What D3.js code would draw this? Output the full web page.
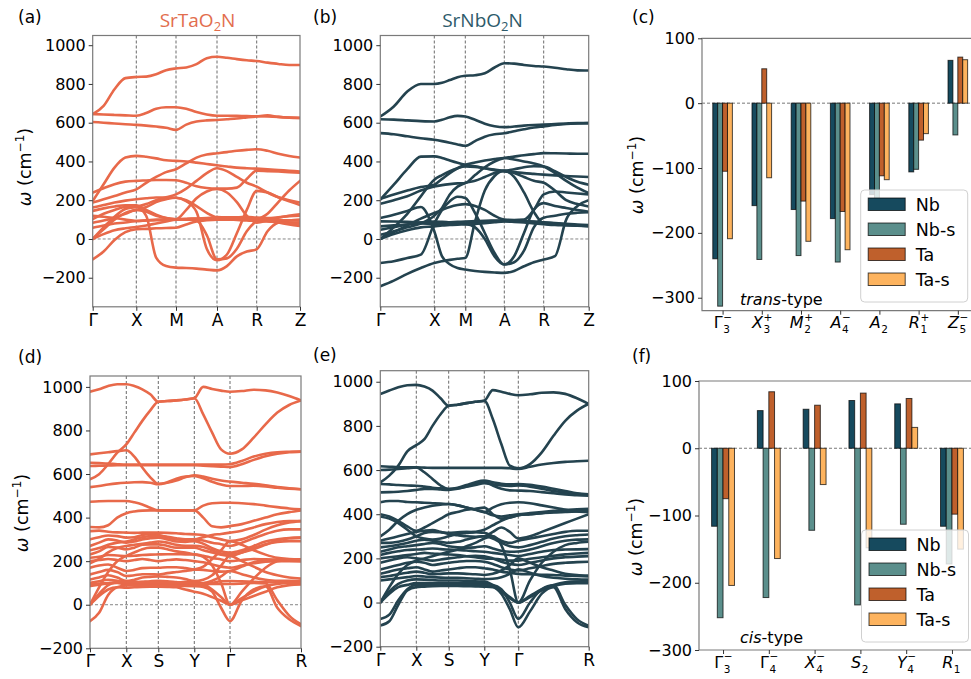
<!DOCTYPE html>
<html>
<head>
<meta charset="utf-8">
<script src="https://cdn.jsdelivr.net/npm/d3@7"></script>
<style>
  body { margin: 0; background: #fff; }
  svg text { font-family: "DejaVu Sans", sans-serif; fill: #000; }
</style>
</head>
<body>
<svg id="fig" width="971" height="679"></svg>
<script>
// ---------------- phonon band data (cm^-1), sampled along the k-path ----------------
var pathTrans = ["Γ", "X", "M", "A", "R", "Z"];
var pathCis = ["Γ", "X", "S", "Y", "Γ", "R"];
// distance of each high-symmetry point along the path
var kTa = [0, 43.6, 83.3, 124.3, 164, 207.3];
var kNb = [0, 54, 85, 124, 163.4, 208.4];
var kTaCis = [0, 36.3, 68.3, 104.3, 140, 211];
var kNbCis = [0, 36, 68.4, 104, 138, 208.4];
// number of sample steps in each segment
var stepsTrans = [4, 4, 4, 4, 4];
var stepsCis = [4, 4, 4, 4, 6];

var bandsTa = [
  [644, 687, 773, 830, 836, 838, 850, 871, 880, 885, 902, 933, 940, 935, 928, 922, 918, 910, 903, 898, 898],
  [645, 642, 640, 638, 636, 650, 672, 680, 680, 672, 655, 642, 636, 636, 635, 634, 633, 632, 630, 627, 625],
  [604, 600, 596, 592, 589, 585, 580, 574, 563, 590, 606, 612, 614, 618, 622, 627, 632, 638, 630, 626, 624],
  [196, 282, 368, 420, 429, 424, 416, 406, 403, 400, 394, 387, 380, 374, 368, 365, 363, 360, 356, 352, 348],
  [239, 262, 283, 296, 300, 302, 304, 304, 303, 290, 272, 263, 260, 260, 265, 310, 352, 350, 348, 345, 342],
  [188, 205, 222, 240, 256, 290, 320, 345, 360, 390, 420, 436, 442, 448, 455, 460, 463, 455, 440, 428, 420],
  [162, 175, 188, 198, 205, 210, 214, 214, 213, 195, 140, -50, -110, -80, 30, 150, 248, 240, 215, 195, 175],
  [145, 158, 168, 174, 174, 150, 125, 108, 102, 150, 210, 245, 258, 240, 190, 120, 84, 95, 110, 120, 127],
  [-105, -65, -5, 35, 50, 52, 55, 57, 58, 75, 90, 97, 100, 100, 98, 96, 93, 90, 87, 85, 84],
  [102, 130, 150, 165, 165, 119, -96, -140, -148, -150, -153, -158, -162, -140, -90, -65, -53, 40, 85, 95, 100],
  [84, 95, 110, 130, 150, 140, 120, 108, 102, 100, 95, 20, -105, -100, -50, 40, 95, 130, 190, 250, 300],
  [119, 115, 108, 100, 93, 95, 97, 98, 100, 102, 104, 105, 106, 105, 104, 102, 100, 95, 85, 75, 67],
  [0, 25, 45, 55, 62, 70, 80, 90, 100, 102, 103, 104, 104, 104, 103, 100, 98, 92, 86, 80, 75],
  [0, 50, 100, 135, 150, 165, 190, 205, 213, 200, 170, 135, 113, 112, 112, 115, 110, 108, 112, 118, 120],
  [0, 60, 115, 155, 165, 180, 200, 215, 230, 260, 300, 340, 365, 350, 320, 290, 270, 240, 215, 200, 188],
  [58, 70, 80, 85, 93, 96, 100, 101, 102, 104, 106, 108, 110, 108, 106, 104, 102, 100, 98, 96, 94]
];

var bandsNb = [
  [632, 684, 761, 800, 800, 806, 820, 835, 842, 845, 855, 885, 907, 905, 898, 893, 890, 884, 876, 870, 869],
  [618, 616, 612, 608, 606, 615, 628, 635, 632, 615, 595, 582, 577, 580, 585, 588, 590, 593, 596, 598, 598],
  [546, 540, 530, 520, 512, 505, 497, 488, 481, 505, 528, 540, 546, 556, 566, 575, 581, 588, 593, 596, 598],
  [203, 280, 360, 425, 426, 418, 405, 393, 383, 375, 365, 355, 349, 345, 340, 336, 332, 328, 325, 322, 320],
  [182, 200, 220, 250, 271, 278, 283, 287, 289, 330, 370, 400, 418, 425, 432, 438, 443, 442, 441, 440, 440],
  [208, 230, 250, 268, 280, 310, 340, 365, 383, 395, 405, 413, 418, 410, 400, 390, 374, 340, 300, 265, 237],
  [-244, -215, -180, -150, -124, -115, -108, -102, -98, 90, 250, 325, 352, 320, 240, 140, 80, 75, 72, 70, 68],
  [-124, -115, -98, -81, 80, 150, 195, 218, 211, 134, 31, -72, -132, -89, 31, 151, 185, 170, 160, 150, 140],
  [108, 125, 145, 165, 40, -90, -130, -150, -158, -165, -170, -173, -175, -165, -141, -120, -106, -89, 100, 170, 200],
  [48, 60, 75, 85, 90, 88, 85, 80, 78, 60, 0, -90, -132, -120, -60, 60, 110, 120, 130, 135, 138],
  [91, 90, 88, 85, 82, 84, 86, 88, 90, 92, 94, 95, 96, 95, 93, 90, 86, 82, 78, 74, 72],
  [65, 70, 75, 80, 78, 80, 82, 84, 86, 88, 90, 92, 93, 92, 90, 88, 85, 80, 75, 70, 66],
  [0, 60, 130, 220, 306, 330, 350, 365, 374, 372, 365, 358, 352, 360, 370, 375, 374, 350, 320, 295, 280],
  [0, 35, 70, 105, 134, 150, 165, 175, 180, 170, 150, 120, 100, 98, 100, 150, 230, 245, 240, 235, 230],
  [0, 25, 45, 60, 65, 70, 72, 74, 75, 78, 82, 86, 90, 88, 85, 80, 76, 72, 70, 68, 66],
  [22, 40, 60, 80, 120, 160, 230, 270, 289, 300, 320, 340, 352, 340, 320, 300, 290, 250, 200, 180, 168]
];

var bandsTaCis = [
  [978, 989, 1004, 1012, 1012, 1004, 989, 966, 932, 935, 938, 942, 948, 1000, 990, 983, 978, 981, 987, 984, 974, 958, 938],
  [576, 599, 645, 698, 736, 790, 844, 892, 932, 935, 938, 942, 948, 874, 790, 713, 693, 713, 767, 828, 882, 917, 938],
  [690, 695, 700, 705, 709, 680, 630, 585, 555, 560, 570, 585, 594, 588, 578, 570, 565, 560, 555, 548, 540, 535, 530],
  [540, 545, 552, 557, 560, 562, 563, 560, 553, 562, 578, 588, 591, 580, 565, 552, 545, 545, 546, 543, 537, 533, 530],
  [652, 650, 648, 645, 643, 643, 643, 643, 643, 643, 643, 643, 643, 643, 643, 643, 645, 660, 680, 693, 700, 702, 703],
  [637, 638, 639, 640, 640, 640, 640, 640, 640, 640, 640, 640, 640, 638, 636, 634, 632, 645, 665, 682, 693, 700, 703],
  [473, 475, 476, 476, 476, 470, 460, 445, 433, 433, 433, 433, 433, 455, 466, 468, 468, 466, 462, 455, 448, 442, 438],
  [357, 355, 365, 400, 420, 428, 432, 433, 433, 433, 433, 433, 433, 400, 360, 355, 361, 370, 385, 400, 415, 425, 433],
  [338, 340, 335, 332, 331, 330, 331, 331, 331, 330, 328, 325, 323, 320, 310, 300, 292, 300, 320, 345, 365, 378, 384],
  [300, 310, 318, 315, 308, 310, 320, 325, 320, 310, 300, 298, 300, 295, 285, 278, 270, 285, 305, 325, 340, 346, 346],
  [270, 285, 300, 295, 285, 290, 300, 305, 308, 300, 290, 288, 292, 280, 260, 245, 239, 250, 270, 290, 300, 306, 308],
  [231, 245, 265, 262, 254, 262, 275, 277, 277, 270, 262, 262, 262, 250, 240, 230, 224, 240, 260, 278, 288, 292, 292],
  [216, 220, 228, 226, 224, 225, 228, 230, 231, 232, 232, 231, 231, 225, 215, 208, 200, 205, 210, 208, 207, 208, 208],
  [200, 205, 210, 205, 200, 205, 210, 205, 200, 205, 208, 205, 200, 195, 185, 175, 170, 180, 190, 198, 200, 200, 200],
  [170, 180, 185, 170, 155, 160, 168, 170, 170, 172, 172, 168, 162, 160, 155, 152, 155, 175, 195, 205, 205, 202, 200],
  [139, 150, 160, 150, 132, 135, 140, 140, 139, 145, 150, 155, 162, 175, 210, 250, 292, 275, 250, 230, 215, 210, 208],
  [116, 125, 135, 125, 109, 115, 125, 128, 130, 128, 125, 118, 109, 115, 135, 180, 224, 200, 175, 150, 135, 125, 120],
  [101, 108, 115, 110, 100, 102, 105, 108, 110, 108, 104, 100, 98, 100, 110, 130, 155, 140, 125, 115, 110, 110, 109],
  [86, 92, 98, 100, 93, 95, 96, 96, 95, 95, 94, 93, 93, 92, 100, 108, 109, 107, 105, 103, 102, 101, 101],
  [0, 40, 70, 80, 78, 80, 82, 83, 83, 82, 80, 70, 60, 50, 35, 18, 0, 20, 40, 60, 80, 90, 93],
  [0, 50, 90, 105, 109, 105, 100, 95, 93, 95, 100, 105, 109, 95, 70, 35, 0, 30, 60, 85, 95, 100, 101],
  [-75, -37, 45, 80, 88, 88, 87, 86, 86, 86, 86, 86, 85, 82, 60, -14, -75, 20, 70, 85, -14, -67, -98],
  [95, 97, 100, 102, 104, 104, 104, 104, 104, 103, 102, 100, 98, 96, 95, 95, 95, 97, 100, 98, 20, -50, -90],
  [0, 80, 150, 200, 224, 240, 255, 262, 262, 255, 245, 240, 231, 220, 180, 100, 0, 60, 120, 170, 200, 205, 208],
  [250, 260, 275, 285, 290, 300, 310, 315, 316, 312, 305, 300, 300, 310, 320, 325, 331, 340, 355, 370, 380, 384, 384],
  [190, 210, 240, 260, 270, 275, 280, 285, 290, 285, 275, 270, 270, 265, 250, 235, 231, 240, 255, 275, 295, 305, 308]
];

var bandsNbCis = [
  [944, 960, 975, 984, 986, 978, 960, 925, 891, 896, 903, 909, 914, 962, 955, 945, 939, 943, 950, 952, 945, 925, 899],
  [544, 575, 620, 685, 713, 740, 800, 853, 891, 896, 903, 909, 914, 831, 718, 620, 608, 627, 680, 755, 823, 869, 899],
  [617, 615, 613, 612, 612, 611, 610, 610, 610, 610, 610, 610, 610, 610, 610, 608, 605, 615, 625, 632, 637, 640, 642],
  [600, 602, 605, 608, 612, 590, 560, 530, 514, 520, 532, 545, 552, 545, 538, 535, 537, 533, 525, 515, 505, 495, 490],
  [537, 535, 532, 530, 529, 525, 520, 517, 514, 518, 525, 532, 540, 535, 530, 528, 530, 525, 515, 505, 498, 492, 487],
  [499, 500, 502, 505, 510, 515, 515, 512, 510, 515, 525, 540, 548, 530, 515, 508, 507, 505, 500, 495, 490, 486, 484],
  [454, 460, 460, 455, 454, 452, 450, 448, 446, 440, 430, 420, 409, 430, 445, 452, 454, 450, 440, 430, 420, 412, 409],
  [400, 390, 370, 345, 325, 340, 360, 380, 400, 410, 420, 425, 430, 400, 380, 385, 395, 400, 405, 408, 410, 412, 415],
  [300, 330, 370, 400, 420, 430, 438, 443, 446, 440, 430, 420, 410, 395, 390, 395, 400, 405, 410, 415, 420, 422, 424],
  [280, 290, 300, 310, 320, 325, 328, 320, 310, 305, 300, 298, 300, 320, 340, 320, 290, 300, 320, 340, 360, 380, 400],
  [270, 270, 275, 285, 300, 315, 320, 318, 316, 318, 320, 318, 316, 300, 280, 270, 280, 290, 300, 310, 320, 325, 325],
  [250, 255, 262, 270, 280, 285, 280, 275, 270, 275, 285, 295, 300, 290, 270, 255, 250, 260, 275, 290, 300, 305, 308],
  [230, 240, 250, 255, 260, 265, 270, 265, 255, 250, 248, 250, 255, 245, 235, 230, 231, 240, 255, 270, 280, 285, 286],
  [215, 225, 232, 238, 240, 242, 245, 242, 240, 238, 236, 232, 230, 225, 220, 215, 210, 220, 230, 238, 240, 241, 242],
  [200, 205, 210, 215, 220, 225, 222, 220, 218, 215, 210, 205, 200, 198, 195, 190, 190, 198, 205, 212, 218, 222, 225],
  [180, 190, 200, 205, 200, 195, 190, 195, 200, 205, 210, 212, 210, 200, 185, 175, 170, 180, 190, 200, 205, 208, 210],
  [150, 160, 170, 180, 185, 180, 170, 175, 180, 185, 188, 188, 185, 175, 160, 150, 145, 155, 165, 175, 180, 183, 185],
  [130, 140, 150, 155, 160, 150, 140, 145, 150, 155, 160, 160, 155, 150, 140, 135, 130, 128, 126, 125, 122, 120, 118],
  [115, 120, 128, 135, 140, 135, 128, 130, 132, 132, 130, 128, 125, 130, 145, 170, 200, 180, 160, 145, 130, 125, 122],
  [100, 105, 110, 115, 120, 118, 115, 113, 112, 112, 110, 108, 106, 108, 115, 130, 150, 135, 120, 112, 108, 105, 104],
  [0, 50, 85, 100, 105, 104, 102, 100, 100, 100, 98, 96, 95, 80, 55, 25, 0, 30, 60, 80, 92, 95, 96],
  [0, 40, 70, 80, 88, 88, 88, 88, 88, 88, 88, 88, 87, 75, 50, 20, 0, 25, 55, 75, 85, 88, 88],
  [-104, -85, -10, 55, 70, 72, 74, 75, 75, 75, 74, 73, 72, 70, 40, -30, -112, -40, 40, 70, -29, -89, -112],
  [-75, -55, 10, 60, 80, 80, 80, 80, 80, 80, 80, 80, 80, 78, 60, 0, -74, 0, 60, 78, -10, -75, -105],
  [0, 70, 130, 170, 190, 200, 210, 220, 230, 240, 255, 270, 290, 300, 260, 150, 0, 100, 180, 230, 260, 270, 275],
  [390, 380, 360, 330, 300, 290, 285, 290, 300, 310, 315, 320, 330, 350, 370, 385, 395, 400, 405, 410, 412, 415, 418]
];

// ---------------- soft-mode bar data (cm^-1) ----------------
var seriesNames = ["Nb", "Nb-s", "Ta", "Ta-s"];
var seriesColors = ["#164a5e", "#5b8f8c", "#bf602c", "#fdb35e"];
// [letter, subscript, superscript]
var modesTrans = [["Γ", "3", "−"], ["X", "3", "+"], ["M", "2", "+"], ["A", "4", "−"], ["A", "2", ""], ["R", "1", "+"], ["Z", "5", "−"]];
var modesCis = [["Γ", "3", "−"], ["Γ", "4", "−"], ["X", "4", "−"], ["S", "2", ""], ["Y", "4", "−"], ["R", "1", ""]];
var transNb = [-240, -158, -164, -178, -141, -106, 66];
var transNbs = [-313, -241, -235, -245, -148, -102, -49];
var transTa = [-105, 53, -151, -167, -112, -57, 71];
var transTas = [-209, -115, -213, -226, -118, -47, 67];
var cisNb = [-116, 56, 58, 71, 66, -116];
var cisNbs = [-252, -222, -122, -233, -113, -172];
var cisTa = [-75, 84, 64, 82, 74, -98];
var cisTas = [-204, -164, -54, -148, 31, -150];

var taColor = "#e8694a", nbColor = "#24434f";

var svg = d3.select("#fig");
var defs = svg.append("defs");

function addTag(txt, x, y) {
  svg.append("text").attr("x", x).attr("y", y).style("font-size", "17px").text(txt);
}

function addYLabel(cx, cy) {
  var t = svg.append("text")
      .attr("transform", "translate(" + cx + "," + cy + ") rotate(-90)")
      .attr("text-anchor", "middle")
      .style("font-size", "17.5px");
  t.append("tspan").attr("dy", "0.35em").style("font-style", "italic").text("ω");
  t.append("tspan").text(" (cm");
  t.append("tspan").attr("dy", -7).style("font-size", "12px").text("−1");
  t.append("tspan").attr("dy", 7).text(")");
}

function styleAxis(ax) {
  ax.select(".domain").remove();
  ax.selectAll(".tick line").attr("stroke", "#333");
  ax.selectAll(".tick text").style("font-size", "16px").style("font-family", '"DejaVu Sans", sans-serif').attr("fill", "#000");
}

function bandPanel(o) {
  var x = d3.scaleLinear().domain([0, o.k[o.k.length - 1]]).range([o.left, o.right]);
  var y = d3.scaleLinear().domain(o.yDomain).range([o.bottom, o.top]);

  // sample grid along the path
  var grid = [];
  o.k.slice(0, -1).forEach(function(k0, i) {
    var k1 = o.k[i + 1], n = o.steps[i];
    for (var j = 0; j < n; j++) grid.push(k0 + (k1 - k0) * j / n);
  });
  grid.push(o.k[o.k.length - 1]);

  defs.append("clipPath").attr("id", o.id)
    .append("rect").attr("x", o.left).attr("y", o.top)
    .attr("width", o.right - o.left).attr("height", o.bottom - o.top);

  var g = svg.append("g");

  g.selectAll(".vline").data(o.k.slice(1, -1)).join("line")
      .attr("x1", function(d) { return x(d); }).attr("x2", function(d) { return x(d); })
      .attr("y1", o.top).attr("y2", o.bottom)
      .attr("stroke", "#444").attr("stroke-width", 0.8).attr("stroke-dasharray", "3,2");
  g.append("line")
      .attr("x1", o.left).attr("x2", o.right).attr("y1", y(0)).attr("y2", y(0))
      .attr("stroke", "#666").attr("stroke-width", 0.8).attr("stroke-dasharray", "3,2");

  var line = d3.line()
      .x(function(d, i) { return x(grid[i]); })
      .y(function(d) { return y(d); })
      .curve(d3.curveMonotoneX);

  g.append("g").attr("clip-path", "url(#" + o.id + ")")
    .selectAll("path").data(o.bands).join("path")
      .attr("d", line)
      .attr("fill", "none")
      .attr("stroke", o.color)
      .attr("stroke-width", 2.6)
      .attr("stroke-linecap", "round")
      .attr("stroke-linejoin", "round");

  g.append("rect")
      .attr("x", o.left).attr("y", o.top)
      .attr("width", o.right - o.left).attr("height", o.bottom - o.top)
      .attr("fill", "none").attr("stroke", "#7a7a7a").attr("stroke-width", 1.2);

  var ay = g.append("g").attr("transform", "translate(" + o.left + ",0)")
      .call(d3.axisLeft(y).tickValues(o.yTicks).tickFormat(d3.format("d")).tickSize(4).tickPadding(3));
  styleAxis(ay);

  var ax = g.append("g").attr("transform", "translate(0," + o.bottom + ")")
      .call(d3.axisBottom(x).tickValues(o.k).tickFormat(function(d, i) { return o.labels[i]; })
        .tickSize(4).tickPadding(3));
  styleAxis(ax);
  ax.selectAll(".tick text").style("font-size", "17px");
}

// one text element per mode label: letter, stacked superscript and subscript
function modeLabel(g, cx, y, m) {
  var t = g.append("text").attr("y", y).style("font-size", "16px");
  var base = t.append("tspan").style("font-style", m[0] === "Γ" ? "normal" : "italic").text(m[0]);
  var bw = base.node().getComputedTextLength();
  var x0 = cx - (bw + 8.5) / 2;
  base.attr("x", x0);
  if (m[2]) {
    t.append("tspan").attr("x", x0 + bw + 0.5).attr("y", y - 7.5).style("font-size", "10.5px").text(m[2]);
  }
  t.append("tspan").attr("x", x0 + bw + 0.5).attr("y", y + 5).style("font-size", "10.5px").text(m[1]);
}

function barPanel(o) {
  var x = d3.scaleLinear().domain([-0.525, o.modes.length - 0.475]).range([o.left, o.right]);
  var y = d3.scaleLinear().domain(o.yDomain).range([o.bottom, o.top]);
  var w = 0.125;

  var g = svg.append("g");

  g.append("line")
      .attr("x1", o.left).attr("x2", o.right).attr("y1", y(0)).attr("y2", y(0))
      .attr("stroke", "#555").attr("stroke-width", 0.8).attr("stroke-dasharray", "3,2");

  o.series.forEach(function(vals, s) {
    g.append("g").selectAll("rect").data(vals).join("rect")
        .attr("x", function(d, i) { return x(i + (s - 2) * w); })
        .attr("width", x(w) - x(0))
        .attr("y", function(d) { return y(Math.max(0, d)); })
        .attr("height", function(d) { return Math.abs(y(d) - y(0)); })
        .attr("fill", seriesColors[s])
        .attr("stroke", "#000").attr("stroke-opacity", 0.7).attr("stroke-width", 1);
  });

  // spines: left, top, bottom
  g.append("path")
      .attr("d", "M" + o.right + "," + o.top + "H" + o.left + "V" + o.bottom + "H" + o.right)
      .attr("fill", "none").attr("stroke", "#7a7a7a").attr("stroke-width", 1.2);

  var ay = g.append("g").attr("transform", "translate(" + o.left + ",0)")
      .call(d3.axisLeft(y).tickValues(o.yTicks).tickFormat(d3.format("d")).tickSize(4).tickPadding(3));
  styleAxis(ay);

  var ax = g.append("g").attr("transform", "translate(0," + o.bottom + ")")
      .call(d3.axisBottom(x).tickValues(d3.range(o.modes.length)).tickFormat("").tickSize(4));
  styleAxis(ax);
  o.modes.forEach(function(m, i) { modeLabel(g, x(i), o.bottom + 17.5, m); });

  // note text
  var note = g.append("text").attr("x", o.noteX).attr("y", o.noteY).style("font-size", "16px");
  note.append("tspan").style("font-style", "italic").text(o.note);
  note.append("tspan").text("-type");

  // legend
  var lg = g.append("g").attr("transform", "translate(" + o.legX + "," + o.legY + ")");
  lg.append("rect").attr("width", 107).attr("height", 112).attr("rx", 4)
      .attr("fill", "#fff").attr("fill-opacity", 0.8).attr("stroke", "#d0d0d0");
  seriesNames.forEach(function(nm, s) {
    lg.append("rect").attr("x", 7.5).attr("y", 8 + s * 25).attr("width", 37).attr("height", 12.5)
        .attr("fill", seriesColors[s]).attr("stroke", "#000").attr("stroke-opacity", 0.7);
    lg.append("text").attr("x", 55).attr("y", 20.5 + s * 25).style("font-size", "17.5px").text(nm);
  });
}

// ---------------- draw ----------------
var bandTicks = [-200, 0, 200, 400, 600, 800, 1000];

bandPanel({ id: "ca", left: 92.7, right: 300, top: 35.5, bottom: 306.8, yDomain: [-350, 1050],
  k: kTa, steps: stepsTrans, labels: pathTrans, bands: bandsTa, color: taColor, yTicks: bandTicks });
bandPanel({ id: "cb", left: 380.3, right: 588.7, top: 35.5, bottom: 306.8, yDomain: [-350, 1050],
  k: kNb, steps: stepsTrans, labels: pathTrans, bands: bandsNb, color: nbColor, yTicks: bandTicks });
bandPanel({ id: "cd", left: 90, right: 301, top: 376, bottom: 648.3, yDomain: [-200, 1050],
  k: kTaCis, steps: stepsCis, labels: pathCis, bands: bandsTaCis, color: taColor, yTicks: bandTicks });
bandPanel({ id: "ce", left: 380.3, right: 588.7, top: 370.7, bottom: 646.7, yDomain: [-200, 1050],
  k: kNbCis, steps: stepsCis, labels: pathCis, bands: bandsNbCis, color: nbColor, yTicks: bandTicks });

barPanel({ left: 702, right: 978.4, top: 38.3, bottom: 310.7, yDomain: [-320, 100],
  yTicks: [-300, -200, -100, 0, 100], modes: modesTrans,
  series: [transNb, transNbs, transTa, transTas],
  note: "trans", noteX: 740, noteY: 305, legX: 860.7, legY: 190 });
barPanel({ left: 699, right: 976, top: 381, bottom: 650, yDomain: [-300, 100],
  yTicks: [-300, -200, -100, 0, 100], modes: modesCis,
  series: [cisNb, cisNbs, cisTa, cisTas],
  note: "cis", noteX: 740, noteY: 643, legX: 861.5, legY: 530 });

// titles
function addTitle(cx, y, metal, color) {
  var t = svg.append("text").attr("x", cx).attr("y", y).attr("text-anchor", "middle")
      .style("font-family", '"Open Sans", sans-serif').style("font-size", "19px").style("fill", color);
  t.append("tspan").text("Sr" + metal + "O");
  t.append("tspan").attr("dy", 4).style("font-size", "13px").text("2");
  t.append("tspan").attr("dy", -4).text("N");
}
addTitle(197.5, 27, "Ta", "#e26d4d");
addTitle(482.5, 27, "Nb", "#2d5a6a");

addTag("(a)", 18, 23);
addTag("(b)", 313, 23);
addTag("(c)", 632, 23);
addTag("(d)", 18, 363);
addTag("(e)", 313, 361);
addTag("(f)", 632, 362);

addYLabel(24.5, 167);
addYLabel(22, 513);
addYLabel(636.5, 175);
addYLabel(636, 537);
</script>
</body>
</html>
